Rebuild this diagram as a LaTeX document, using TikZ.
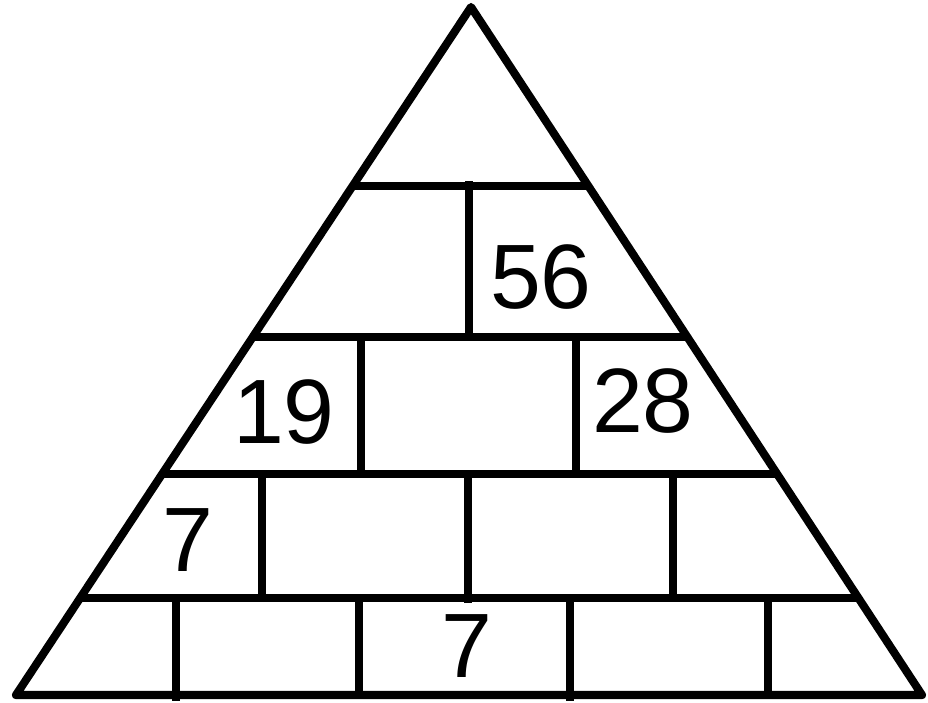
\documentclass[tikz,border=0pt]{standalone}
\usepackage{fontspec}
\setmainfont{Liberation Sans}
\usetikzlibrary{calc, math}

\begin{document}
\begin{tikzpicture}[x=0.01cm, y=-0.01cm,
  brick/.style={line width=2.3pt},
  num/.style={inner sep=0pt, font=\fontsize{26}{30}\selectfont}]
\tikzmath{
\AX = 471;
\AY = 7;
\BY = 695;
\LX = 16;
\RX = 922;
}
\useasboundingbox (0,0) rectangle (928,702);

\coordinate (apex) at (\AX,\AY);
\coordinate (bl) at (\LX,\BY);
\coordinate (br) at (\RX,\BY);

\draw[brick, line join=round] (apex) -- (bl) -- (br) -- cycle;

% rows
\foreach \ry in {186,337,474,598}{
  \tikzmath{\t = (\ry-\AY)/(\BY-\AY);}
  \draw[brick] ($(apex)!\t!(bl)$) -- ($(apex)!\t!(br)$);
}

% joints
\foreach \jx/\ja/\jb in {469/181/337, 361/337/474, 576/337/474,
                         262/474/598, 468/474/603, 673/474/598,
                         176/598/701, 359/598/695, 570/598/701, 768/598/695}
  \draw[brick] (\jx,\ja) -- (\jx,\jb);

\node[num] (n56) at (541,277) {56};
\node[num] (n19) at (284,412) {19};
\node[num] (n28) at (643,401) {28};
\node[num] (n7a) at (188,540) {7};
\node[num] (n7b) at (467,646) {7};

\end{tikzpicture}
\end{document}
